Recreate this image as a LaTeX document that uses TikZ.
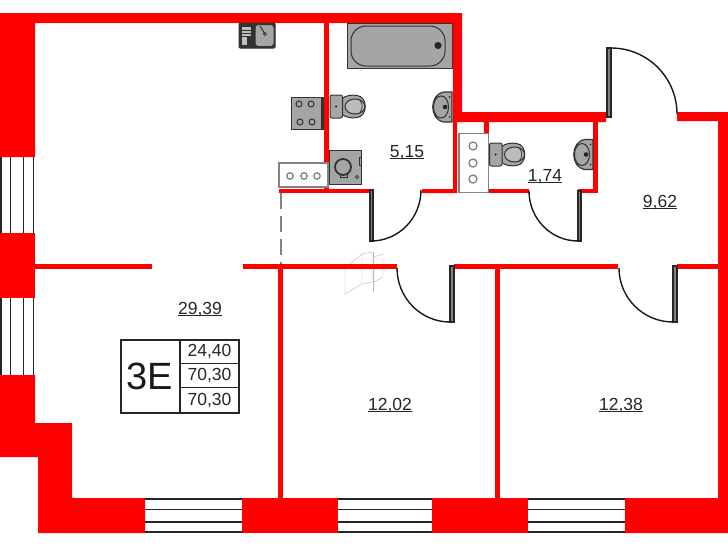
\documentclass[tikz,border=0pt]{standalone}
\usepackage{fontspec}
\setmainfont{Liberation Sans}
\definecolor{wallred}{RGB}{255,0,0}
\definecolor{fixgray}{RGB}{165,165,165}
\definecolor{fixline}{RGB}{50,50,50}
\definecolor{capgray}{RGB}{130,130,130}
\definecolor{ghost}{RGB}{185,185,185}
\tikzset{
  wall/.style={fill=wallred,draw=none},
  fixture/.style={fill=fixgray,draw=fixline,line width=1pt},
  burner/.style={draw=fixline,line width=1pt,fill=fixgray},
  cabinet/.style={fill=white,draw=capgray,line width=1.5pt},
  knob/.style={draw=capgray,line width=1.3pt,fill=white},
  leaf/.style={fill=capgray,draw=black!85,line width=1.1pt},
  swing/.style={draw=black!90,line width=1.4pt},
  glazing/.style={draw=black!85,line width=1.3pt},
  area/.style={font=\fontsize{17.5}{19}\selectfont,text=black!85,inner sep=0pt,anchor=base},
  tablebox/.style={draw=black!85,line width=1.4pt},
  tabletext/.style={font=\fontsize{17.5}{19}\selectfont,text=black!85,inner sep=0pt,anchor=center},
  ghostline/.style={draw=ghost,line width=0.4pt}
}
\newcommand{\ulabel}[1]{\setbox0=\hbox{#1}\rlap{\rule[-1.5pt]{\wd0}{0.8pt}}\box0}
\newcommand{\wc}[2]{% x of tank left, y of centre
  \begin{scope}[shift={(#1,#2)}]
    \draw[fixture] (12,-8) .. controls (16,-11) and (22,-12) .. (27,-11) .. controls (38,-10) and (38,10) .. (27,11) .. controls (22,12) and (16,11) .. (12,8) -- cycle;
    \draw[fixture,fill=fixgray!75] (25,0) ellipse (10 and 7.5);
    \draw[fixline,line width=0.7pt] (30,-6) .. controls (33,-2) and (33,2) .. (30,6);
    \draw[fixture,rounded corners=2pt] (0,-11.5) rectangle (12.5,11.5);
    \fill[black] (6,0) circle (1);
  \end{scope}}
\newcommand{\washbasin}[2]{% x of wall face, y of centre
  \begin{scope}[shift={(#1,#2)}]
    \draw[fixture,line width=1.2pt] (0,-15) -- (-8,-15) .. controls (-23,-13) and (-23,13) .. (-8,15) -- (0,15) -- cycle;
    \draw[fixture,line width=1pt] (-11,0) ellipse (7.5 and 11);
    \fill[black!85] (-7,0) circle (2.3);
    \fill[black!80] (-2.5,-10) circle (1) (-2.5,10) circle (1);
  \end{scope}}
\begin{document}
\begin{tikzpicture}[x=1pt,y=-1pt]
\useasboundingbox (0,0) rectangle (728,546);
\fill[white] (0,0) rectangle (728,546);

% ---- faint outline near the corridor
\draw[ghostline] (345,268) -- (362,254) -- (362,284) -- (345,294) -- cycle;
\draw[ghostline] (362,254) -- (372,252) -- (372,282) -- (362,284);
\draw[ghostline] (374,257) -- (383,254) -- (383,277) -- (374,282) -- cycle;
\draw[ghostline] (373,252) -- (373,292);

% ---- windows
\foreach \a/\b in {157/233,298/375}{
  \foreach \x in {1,10.5,23.5,33.5}
    \draw[glazing,line width=\ifdim\x pt<2pt 2.4pt\else 1.3pt\fi] (\x,\a) -- (\x,\b);
}
\foreach \a/\b in {145/242,338/432,528/625}{
  \foreach \y in {499,509.5,522,532}
    \draw[glazing] (\a,\y) -- (\b,\y);
}

% ---- heavy walls
\fill[wall] (0,13) -- (462,13) -- (462,112) -- (606,112) -- (606,122) -- (457,122)
  -- (457,193) -- (422,193) -- (422,189) -- (453,189) -- (453,23) -- (35,23)
  -- (35,157) -- (0,157) -- cycle;
\fill[wall] (0,233) rectangle (35,298);
\fill[wall] (0,375) -- (35,375) -- (35,423) -- (72,423) -- (72,498) -- (145,498)
  -- (145,533) -- (38,533) -- (38,457) -- (0,457) -- cycle;
\fill[wall] (242,498) rectangle (338,533);
\fill[wall] (432,498) rectangle (528,533);
\fill[wall] (625,498) -- (718,498) -- (718,121) -- (677,121) -- (677,112) -- (728,112)
  -- (728,533) -- (625,533) -- cycle;

% ---- partitions
\fill[wall] (324,23) rectangle (329,190);
\fill[wall] (279,189) rectangle (369,193);
\fill[wall] (484,122) rectangle (489,133);
\fill[wall] (593,122) rectangle (598,193);
\fill[wall] (489,189) rectangle (529,193);
\fill[wall] (578,189) rectangle (598,193);
\fill[wall] (35,264) rectangle (152,269);
\fill[wall] (243,264) rectangle (397,269);
\fill[wall] (454,264) rectangle (618,269);
\fill[wall] (677,264) rectangle (718,269);
\fill[wall] (278,264) rectangle (283,498);
\fill[wall] (495,264) rectangle (500,498);

% ---- dashed opening
\draw[capgray,line width=1.3pt,dash pattern=on 16pt off 7pt] (281,193) -- (281,264);

% ---- doors (y axis points down, so angles run clockwise on the page)
\draw[leaf] (607,48) rectangle (611,117);
\draw[swing] (611,48) arc[start angle=-90,end angle=0,radius=66];
\draw[leaf] (370,190) rectangle (373,241);
\draw[swing] (371,241) arc[start angle=90,end angle=0,x radius=50,y radius=51];
\draw[leaf] (578,191) rectangle (581,241);
\draw[swing] (578,241) arc[start angle=90,end angle=180,x radius=49,y radius=50];
\draw[leaf] (450,266) rectangle (454,322);
\draw[swing] (450,322) arc[start angle=90,end angle=180,x radius=53,y radius=54];
\draw[leaf] (673,266) rectangle (677,322);
\draw[swing] (673,322) arc[start angle=90,end angle=180,x radius=54,y radius=54];

% ---- kitchen sink
\draw[fixture,fill=fixline,rounded corners=1pt] (239,23) rectangle (275,48);
\fill[white!75!black] (242,27) rectangle (251,45);
\foreach \y in {30,33,36}\draw[fixline,line width=0.7pt] (242,\y) -- (251,\y);
\fill[fixline] (247,36) rectangle (251,45);
\draw[fixture,rounded corners=3pt] (255,24.5) rectangle (274,46.5);
\draw[fixline,line width=1pt] (260,26) -- (265,34);
\draw[fixline,line width=0.7pt] (265,34) circle (1.6);

% ---- bath
\draw[fixture] (347,23) rectangle (452,68);
\draw[fixture,fill=fixgray,rounded corners=15pt] (351,26) rectangle (445,66);
\fill[black!85] (438,45.5) circle (3.6);

% ---- stove
\draw[fixture] (291,97) rectangle (323,129);
\fill[fixline] (321,97) rectangle (323.5,129);
\foreach \x/\y in {299/104,311/104,300/122,312/122}\draw[burner] (\x,\y) circle (3);

% ---- washing machine
\draw[fixture] (329,150) rectangle (361,184);
\draw[fixline,fill=fixgray,line width=0.7pt] (359,157) rectangle (361,165);
\draw[fixline,fill=fixgray,line width=0.7pt] (340,174) rectangle (347,177);
\draw[fixline,line width=1.8pt] (343,167) circle (8);
\draw[fixline,line width=0.8pt] (357,177) circle (1.6);

% ---- kitchen cabinet
\draw[cabinet] (279,163) rectangle (328,187);
\foreach \x in {290,304,317}\draw[knob] (\x,176) circle (3.2);

% ---- wc cabinet
\draw[cabinet] (459,133.5) rectangle (488.5,192.5);
\foreach \y in {146,163,179}\draw[knob] (473,\y) circle (4);

% ---- sanitary ware
\wc{330}{106.5}
\wc{489.5}{154.5}
\washbasin{452}{107}
\washbasin{593}{154.5}

% ---- area labels
\node[area] (a1) at (407,157) {\ulabel{5,15}};
\node[area] (a2) at (545,181) {\ulabel{1,74}};
\node[area] (a3) at (660,207) {\ulabel{9,62}};
\node[area] (a4) at (200,314) {\ulabel{29,39}};
\node[area] (a5) at (390,410) {\ulabel{12,02}};
\node[area] (a6) at (621,410) {\ulabel{12,38}};

% ---- key table
\draw[tablebox,fill=white] (121,340) rectangle (239,413);
\draw[tablebox] (180,340) -- (180,413) (180,363.5) -- (239,363.5) (180,387.5) -- (239,387.5);
\node[inner sep=0pt,font=\fontsize{38}{40}\selectfont,text=black!90] (kind) at (150,376.5) {3E};
\node[tabletext] (t1) at (209.5,352) {24,40};
\node[tabletext] (t2) at (209.5,376) {70,30};
\node[tabletext] (t3) at (209.5,401) {70,30};
\end{tikzpicture}
\end{document}
